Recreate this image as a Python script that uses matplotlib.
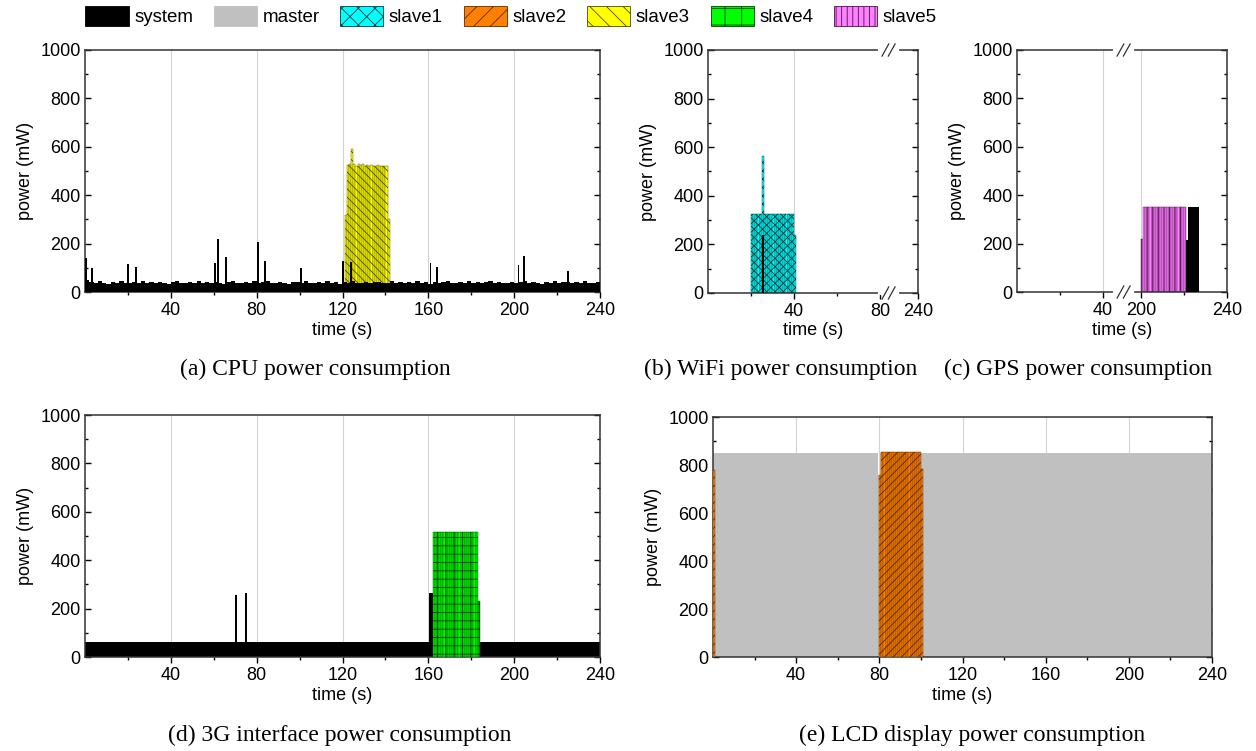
import numpy as np
import matplotlib
matplotlib.use("Agg")
import matplotlib.pyplot as plt
from matplotlib.patches import Patch
from matplotlib.ticker import FixedLocator, MultipleLocator

plt.rcParams['font.family'] = ['Liberation Sans', 'DejaVu Sans']
plt.rcParams['hatch.linewidth'] = 0.6

# legend entries
names = ['system', 'master', 'slave1', 'slave2', 'slave3', 'slave4', 'slave5']
face = ['#000000', '#c0c0c0', '#00ffff', '#ff8000', '#ffff00', '#00ff00', '#ff80ff']
edge = ['#000000', '#c0c0c0', '#003c3c', '#5a2800', '#4a4a00', '#004000', '#4a104a']
leg_hatch = [None, None, 'xx', '//', '\\\\', '+', '|||']
bar_hatch = [None, None, 'xxxx', '////', '\\\\\\\\', '++', '|||']

# (a) CPU: system baseline (2 s bins), spikes, slave3 per second
cpu_base = [48, 40, 36, 44, 38, 35, 42, 37, 45, 39, 36, 41, 38, 44, 36, 40, 37, 43, 39, 35,
            41, 46, 38, 36, 42, 39, 44, 37, 40, 36, 43, 38, 35, 41, 47, 39, 36, 42, 38, 44,
            37, 40, 45, 36, 39, 42, 38, 35, 43, 40, 37, 44, 39, 36, 41, 38, 46, 37, 40, 35,
            42, 39, 44, 36, 38, 41, 37, 43, 40, 36, 39, 45, 38, 42, 36, 40, 37, 44, 39, 41,
            35, 43, 38, 40, 46, 37, 39, 42, 36, 44, 38, 41, 37, 40, 45, 36, 42, 39, 38, 43,
            36, 40, 44, 37, 41, 38, 35, 42, 39, 46, 37, 40, 43, 36, 41, 38, 44, 39, 37, 42]
cpu_spk_t = [0.4, 3.3, 20.0, 23.8, 60.6, 62.0, 65.7, 80.6, 83.9, 100.6,
             120.3, 124.0, 161.0, 164.0, 202.0, 204.5, 225.0]
cpu_spk_p = [140, 100, 115, 105, 120, 220, 145, 205, 130, 100,
             130, 125, 120, 105, 110, 150, 85]
s3_t = [121, 122, 123, 124, 125, 126, 127, 128, 129, 130, 131, 132, 133, 134, 135,
        136, 137, 138, 139, 140, 141]
s3_p = [320, 525, 530, 590, 528, 522, 530, 525, 528, 522, 525, 520, 525, 522, 520,
        525, 522, 520, 522, 520, 300]

# (b) WiFi
s1_t = [20, 21, 22, 23, 24, 25, 26, 27, 28, 29, 30, 31, 32, 33, 34, 35, 36, 37, 38, 39, 40]
s1_p = [325, 325, 325, 325, 325, 565, 325, 325, 325, 325, 325, 325, 325, 325, 325,
        325, 325, 325, 325, 325, 240]
wifi_sys_t = [25]
wifi_sys_p = [240]

# (c) GPS
s5_t = [200, 201, 202, 203, 204, 205, 206, 207, 208, 209, 210, 211, 212, 213, 214,
        215, 216, 217, 218, 219, 220]
s5_p = [220, 350, 350, 350, 350, 350, 350, 350, 350, 350, 350, 350, 350, 350, 350,
        350, 350, 350, 350, 350, 350]
gps_sys_t = [221, 222, 223, 224, 225, 226]
gps_sys_p = [215, 350, 350, 350, 350, 350]

# (d) 3G
g3_sys_edges = [0, 70, 71, 74.5, 75.5, 160.2, 162, 240]
g3_sys_p = [60, 255, 60, 265, 60, 265, 60]
s4_t = [162, 163, 164, 165, 166, 167, 168, 169, 170, 171, 172, 173, 174, 175, 176,
        177, 178, 179, 180, 181, 182, 183]
s4_p = [515, 515, 515, 515, 515, 515, 515, 515, 515, 515, 515, 515, 515, 515, 515,
        515, 515, 515, 515, 515, 515, 230]

# (e) LCD
lcd_master_edges = [0, 79.5, 80.5, 240]
lcd_master_p = [850, 760, 850]
s2_t = [0, 80, 81, 82, 83, 84, 85, 86, 87, 88, 89, 90, 91, 92, 93, 94, 95, 96, 97, 98, 99, 100]
s2_p = [780, 760, 855, 855, 855, 855, 855, 855, 855, 855, 855, 855, 855, 855, 855,
        855, 855, 855, 855, 855, 855, 785]

W, H = 1256, 751


def box(l, r, t, b):
    return [l / W, 1 - b / H, (r - l) / W, (b - t) / H]


def style(ax, major, minor=None):
    ax.set_ylim(0, 1000)
    ax.set_yticks(range(0, 1001, 200))
    ax.yaxis.set_minor_locator(MultipleLocator(100))
    ax.set_xticks(major)
    if minor is not None:
        ax.xaxis.set_minor_locator(FixedLocator(minor))
    ax.tick_params(axis='y', which='both', direction='in', left=True, right=True)
    ax.tick_params(axis='x', which='both', direction='out', top=False)
    ax.tick_params(which='major', length=4, width=1, labelsize=13, pad=3)
    ax.tick_params(which='minor', length=2.5, width=1)
    for s in ax.spines.values():
        s.set_color('#333333')
        s.set_linewidth(1.1)
    ax.set_xlabel('time (s)', fontsize=13, labelpad=2)
    ax.set_ylabel('power (mW)', fontsize=13, labelpad=5)


def vgrid(ax, xs):
    for x in xs:
        ax.axvline(x, color='#d4d4d4', lw=0.8, zorder=0)


def breakmark(ax, xf):
    for y in (0, 1):
        ax.plot([xf - 0.04, xf + 0.04], [y, y], color='white', lw=3,
                transform=ax.transAxes, clip_on=False, zorder=5)
        for dx in (-0.015, 0.015):
            ax.plot([xf + dx - 0.016, xf + dx + 0.016], [y - 0.025, y + 0.025],
                    color='#333333', lw=0.9, transform=ax.transAxes,
                    clip_on=False, zorder=6)


def sbar(ax, t, p, k, **kw):
    ax.bar(t, p, width=1, align='edge', color=face[k], edgecolor=edge[k],
           linewidth=0.3, hatch=bar_hatch[k], **kw)


fig = plt.figure(figsize=(12.56, 7.51), dpi=100)

# (a)
ax = fig.add_axes(box(85, 600, 50, 292))
vgrid(ax, [40, 80, 120, 160, 200])
sbar(ax, s3_t, s3_p, 4, zorder=2)
ax.bar(np.arange(0, 240, 2), cpu_base, width=2, align='edge', color='black', lw=0, zorder=3)
ax.bar(cpu_spk_t, cpu_spk_p, width=0.8, color='black', lw=0, zorder=3)
ax.set_xlim(0, 240)
style(ax, [40, 80, 120, 160, 200, 240], minor=range(20, 240, 40))

# (b) broken axis: 0..84 linear, then squeezed up to 240


def fb(t):
    t = np.asarray(t, dtype=float)
    return np.where(t <= 84, t, 84 + (t - 84) * (13.7 / 156))


def fb_inv(u):
    u = np.asarray(u, dtype=float)
    return np.where(u <= 84, u, 84 + (u - 84) * (156 / 13.7))


ax = fig.add_axes(box(708, 918, 50, 293))
ax.set_xscale('function', functions=(fb, fb_inv))
vgrid(ax, [40])
sbar(ax, s1_t, s1_p, 2, zorder=2)
ax.bar(wifi_sys_t, wifi_sys_p, width=1, align='edge', color='black', lw=0, zorder=3)
ax.set_xlim(0, 240)
style(ax, [40, 80, 240], minor=[20, 60])
breakmark(ax, 84 / 97.7)

# (c) broken axis: 0..49.5 linear, 200..240 linear


def fc(t):
    t = np.asarray(t, dtype=float)
    return np.where(t <= 49.5, t,
                    np.where(t >= 200, t - 142.5, 49.5 + (t - 49.5) * (8 / 150.5)))


def fc_inv(u):
    u = np.asarray(u, dtype=float)
    return np.where(u <= 49.5, u,
                    np.where(u >= 57.5, u + 142.5, 49.5 + (u - 49.5) * (150.5 / 8)))


ax = fig.add_axes(box(1017, 1227, 50, 292))
ax.set_xscale('function', functions=(fc, fc_inv))
vgrid(ax, [40, 200])
sbar(ax, s5_t, s5_p, 6, zorder=2)
ax.bar(gps_sys_t, gps_sys_p, width=1, align='edge', color='black', lw=0, zorder=3)
ax.set_xlim(0, 240)
style(ax, [40, 200, 240], minor=[20, 220])
breakmark(ax, 49.5 / 97.5)

# (d)
ax = fig.add_axes(box(85, 600, 415, 657))
vgrid(ax, [40, 80, 120, 160, 200])
ax.stairs(g3_sys_p, g3_sys_edges, fill=True, color='black', zorder=2)
sbar(ax, s4_t, s4_p, 5, zorder=3)
ax.set_xlim(0, 240)
style(ax, [40, 80, 120, 160, 200, 240], minor=range(20, 240, 40))

# (e)
ax = fig.add_axes(box(713, 1212, 417, 657))
vgrid(ax, [40, 80, 120, 160, 200])
ax.stairs(lcd_master_p, lcd_master_edges, fill=True, color=face[1], zorder=2)
sbar(ax, s2_t, s2_p, 3, zorder=3)
ax.set_xlim(0, 240)
style(ax, [40, 80, 120, 160, 200, 240], minor=range(20, 240, 40))

# legend
handles = [Patch(facecolor=face[i], edgecolor=edge[i] if i > 1 else face[i],
                 hatch=leg_hatch[i], linewidth=0.6) for i in range(7)]
fig.legend(handles, names, ncol=7, loc='upper left', bbox_to_anchor=(76 / W, 1.005),
           frameon=False, fontsize=13.5, handlelength=2.3, handleheight=1.3,
           handletextpad=0.3, columnspacing=1.1, borderaxespad=0.1)

# captions
cap = dict(fontsize=17, family=['Liberation Serif', 'DejaVu Serif'], ha='center', va='center')
fig.text(315 / W, 1 - 369 / H, '(a) CPU power consumption', **cap)
fig.text(781 / W, 1 - 369 / H, '(b) WiFi power consumption', **cap)
fig.text(1078 / W, 1 - 369 / H, '(c) GPS power consumption', **cap)
fig.text(340 / W, 1 - 735 / H, '(d) 3G interface power consumption', **cap)
fig.text(972 / W, 1 - 735 / H, '(e) LCD display power consumption', **cap)

fig.savefig('out.png', dpi=100)
